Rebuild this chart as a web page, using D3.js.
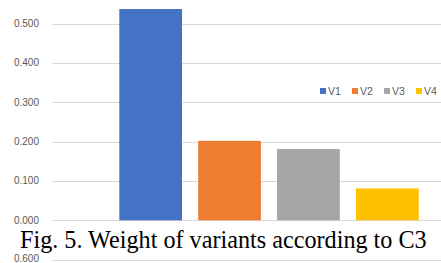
<!DOCTYPE html>
<html>
<head>
<meta charset="utf-8">
<script src="https://cdn.jsdelivr.net/npm/d3@7"></script>
<style>
  body { margin: 0; background: #fff; }
  svg { display: block; }
</style>
</head>
<body>
<div id="chart"></div>
<script>
const series = ["V1", "V2", "V3", "V4"];
const values = [0.537, 0.202, 0.181, 0.081];
const colors = ["#4472C4", "#ED7D31", "#A5A5A5", "#FFC000"];
const yTicks = [0, 0.1, 0.2, 0.3, 0.4, 0.5];
const caption = "Fig. 5. Weight of variants according to C3";

const W = 441, H = 263;
const PLOT = { LEFT: 52, RIGHT: 486, TOP: 23.6, BOTTOM: 220.3 };

const svg = d3.select("#chart").append("svg")
  .attr("width", W)
  .attr("height", H);

// y scale: 0 .. 0.5 spans the gridlines
const y = d3.scaleLinear()
  .domain([0, 0.5])
  .range([PLOT.BOTTOM, PLOT.TOP]);

// bars sit in a single cluster, series side by side
const x = d3.scaleBand()
  .domain(series)
  .range([111.2, 426.8])
  .paddingInner(0.205)
  .paddingOuter(0.1025);

// gridlines
svg.append("g")
  .selectAll("line")
  .data(yTicks)
  .join("line")
    .attr("x1", PLOT.LEFT)
    .attr("x2", W)
    .attr("y1", d => Math.round(y(d)) + 0.5)
    .attr("y2", d => Math.round(y(d)) + 0.5)
    .attr("stroke", "#d9d9d9")
    .attr("stroke-width", 1);

// y axis labels
svg.append("g")
  .selectAll("text")
  .data(yTicks)
  .join("text")
    .attr("x", 39)
    .attr("y", d => y(d))
    .attr("dy", "0.35em")
    .attr("text-anchor", "end")
    .attr("font-family", "Liberation Sans, Arial, sans-serif")
    .attr("font-size", 10)
    .attr("fill", "#595959")
    .text(d => d3.format(".3f")(d));

// bars
svg.append("g")
  .selectAll("rect")
  .data(series)
  .join("rect")
    .attr("x", d => x(d))
    .attr("width", x.bandwidth())
    .attr("y", (d, i) => y(values[i]))
    .attr("height", (d, i) => y(0) - y(values[i]))
    .attr("fill", (d, i) => colors[i]);

// legend
const legend = svg.append("g")
  .selectAll("g")
  .data(series)
  .join("g")
    .attr("transform", (d, i) => `translate(${320 + i * 32}, 91)`);

legend.append("rect")
  .attr("x", 0)
  .attr("y", -3)
  .attr("width", 6)
  .attr("height", 6)
  .attr("fill", (d, i) => colors[i]);

legend.append("text")
  .attr("x", 8)
  .attr("y", 0)
  .attr("dy", "0.35em")
  .attr("font-family", "Liberation Sans, Arial, sans-serif")
  .attr("font-size", 10.5)
  .attr("fill", "#595959")
  .text(d => d);

// caption over the chart
svg.append("text")
  .attr("x", 20)
  .attr("y", 248)
  .attr("font-family", "Liberation Serif, Times New Roman, serif")
  .attr("font-size", 24.2)
  .attr("fill", "#000")
  .text(caption);

// top of the next chart peeking in below the caption
const y2 = 260.5;
svg.append("line")
  .attr("x1", PLOT.LEFT)
  .attr("x2", W)
  .attr("y1", y2)
  .attr("y2", y2)
  .attr("stroke", "#d9d9d9");

svg.append("text")
  .attr("x", 39)
  .attr("y", y2 - 2)
  .attr("dy", "0.35em")
  .attr("text-anchor", "end")
  .attr("font-family", "Liberation Sans, Arial, sans-serif")
  .attr("font-size", 10)
  .attr("fill", "#595959")
  .text("0.600");
</script>
</body>
</html>
